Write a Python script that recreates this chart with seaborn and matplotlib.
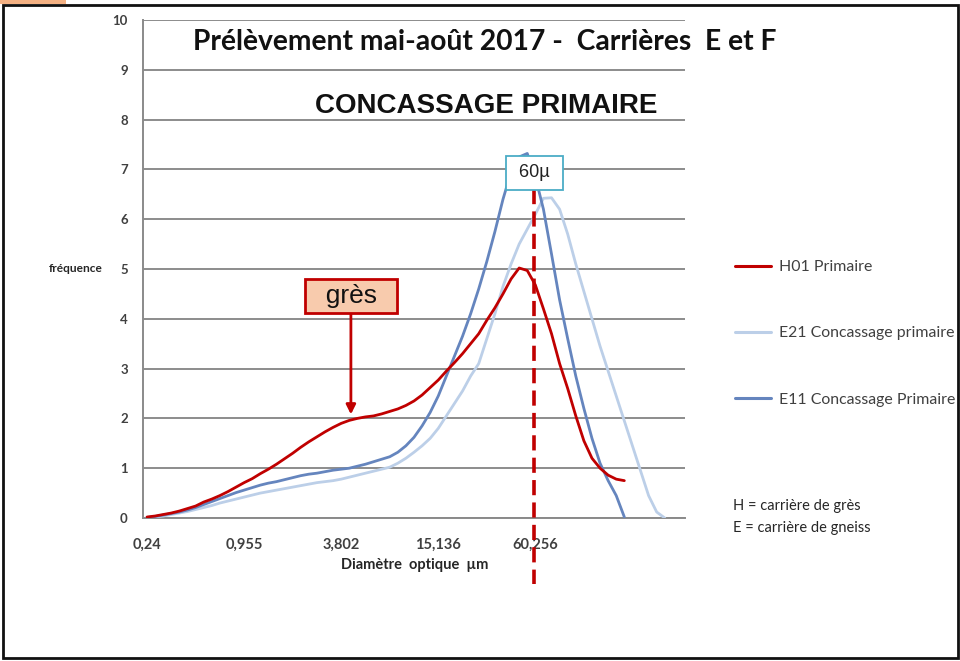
import numpy as np
import pandas as pd
import matplotlib
matplotlib.use("Agg")
import matplotlib.pyplot as plt
from matplotlib.patches import Rectangle
from matplotlib.ticker import FixedLocator
import seaborn as sns

# ---------------- data ----------------
bin_start = 0.24          # first bin (µm); bins grow by 2**(1/6)
bins_per_octave = 6
n_bins = 67
tick_idx = [0, 12, 24, 36, 48]
tick_labels = ["0,24", "0,955", "3,802", "15,136", "60,256"]

h01 = [0.02, 0.04, 0.07, 0.10, 0.14, 0.19, 0.24, 0.32, 0.38, 0.45,
       0.53, 0.62, 0.71, 0.79, 0.89, 0.98, 1.08, 1.19, 1.30, 1.42,
       1.53, 1.63, 1.73, 1.82, 1.90, 1.96, 2.00, 2.03, 2.05, 2.09,
       2.14, 2.19, 2.26, 2.35, 2.47, 2.62, 2.77, 2.95, 3.12, 3.30,
       3.50, 3.70, 3.97, 4.22, 4.50, 4.80, 5.02, 4.97, 4.68, 4.20,
       3.70, 3.10, 2.60, 2.05, 1.55, 1.20, 1.00, 0.86, 0.78, 0.75]

e21 = [0.01, 0.02, 0.04, 0.07, 0.10, 0.13, 0.17, 0.21, 0.25, 0.30,
       0.34, 0.38, 0.42, 0.46, 0.50, 0.53, 0.56, 0.59, 0.62, 0.65,
       0.68, 0.71, 0.73, 0.75, 0.78, 0.82, 0.86, 0.90, 0.94, 0.98,
       1.02, 1.10, 1.20, 1.32, 1.45, 1.60, 1.80, 2.05, 2.30, 2.55,
       2.85, 3.10, 3.60, 4.10, 4.65, 5.10, 5.50, 5.80, 6.10, 6.42,
       6.43, 6.20, 5.70, 5.10, 4.55, 4.00, 3.45, 2.95, 2.45, 1.95,
       1.45, 0.95, 0.45, 0.12, 0.00]

e11 = [0.01, 0.03, 0.06, 0.09, 0.12, 0.16, 0.21, 0.27, 0.33, 0.39,
       0.45, 0.51, 0.56, 0.61, 0.66, 0.70, 0.73, 0.77, 0.81, 0.85,
       0.88, 0.90, 0.93, 0.96, 0.98, 1.00, 1.04, 1.08, 1.13, 1.18,
       1.23, 1.32, 1.45, 1.62, 1.85, 2.12, 2.45, 2.85, 3.25, 3.65,
       4.10, 4.60, 5.15, 5.75, 6.40, 6.95, 7.25, 7.32, 6.85, 6.20,
       5.30, 4.38, 3.60, 2.85, 2.20, 1.60, 1.10, 0.75, 0.45, 0.02]

series_names = ["H01 Primaire", "E21 Concassage primaire", "E11 Concassage Primaire"]
series_vals = [h01, e21, e11]
series_colors = ["#C00000", "#BCCFE8", "#6585BE"]

marker_um = 60            # vertical reference line, "60µ"
gres_idx, gres_val = 25.2, 2.08   # point of the "grès" arrow

rows = []
for name, vals in zip(series_names, series_vals):
    for i, v in enumerate(vals):
        rows.append({"idx": i, "val": v, "series": name})
df = pd.DataFrame(rows)

# ---------------- figure ----------------
W, H = 960, 661
sns.set_style("white")
plt.rcParams["font.family"] = ["Lato", "DejaVu Sans"]

fig = plt.figure(figsize=(W / 100, H / 100), dpi=100)
fig.patch.set_facecolor("white")

def fx(px):
    return px / W

def fy(py):
    return 1 - py / H

ax = fig.add_axes([fx(143), fy(518), fx(685) - fx(143), fy(20) - fy(518)])

sns.lineplot(data=df, x="idx", y="val", hue="series", hue_order=series_names,
             palette=dict(zip(series_names, series_colors)), ax=ax,
             linewidth=2.0, legend=True, zorder=3)

for ln in ax.get_lines():
    if ln.get_color() in ("#C00000", "#c00000"):
        ln.set_zorder(5)

ax.set_xlim(-0.5, n_bins - 0.5)
ax.set_ylim(0, 10)
ax.set_yticks(range(0, 11))
ax.set_xticks(tick_idx)
ax.set_xticklabels(tick_labels)
ax.xaxis.set_minor_locator(FixedLocator(np.arange(-0.5, n_bins, 1)))
ax.tick_params(axis="x", which="major", length=0, pad=14, labelsize=10.5,
               labelcolor="#404040")
ax.tick_params(axis="x", which="minor", length=4, width=1, color="#8a8a8a",
               direction="out")
ax.tick_params(axis="y", which="major", length=6, width=1, color="#8a8a8a",
               direction="out", pad=5, labelsize=9.5, labelcolor="#404040")
for lab in ax.get_xticklabels() + ax.get_yticklabels():
    lab.set_fontweight("bold")

ax.grid(axis="y", color="#8c8c8c", linewidth=1.4, zorder=0)
ax.grid(axis="x", visible=False)
ax.set_axisbelow(True)
for s in ["top", "right"]:
    ax.spines[s].set_visible(False)
for s in ["left", "bottom"]:
    ax.spines[s].set_color("#8a8a8a")
    ax.spines[s].set_linewidth(1.4)

ax.set_xlabel("")
ax.set_ylabel("")

# axis titles
fig.text(fx(76), fy(269), "fréquence", ha="center", va="center",
         fontsize=8.6, color="#262626", fontweight="bold")
fig.text(fx(415), fy(565), "Diamètre  optique  µm", ha="center", va="center",
         fontsize=10.5, color="#262626", fontweight="bold")

# titles
fig.text(fx(485), fy(42), "Prélèvement mai-août 2017 -  Carrières  E et F",
         ha="center", va="center", fontsize=20.3, fontweight="bold", color="#111111")
fig.text(fx(486), fy(106), "CONCASSAGE PRIMAIRE", ha="center", va="center",
         fontsize=20, fontweight="bold", color="#111111",
         family=["Liberation Sans", "DejaVu Sans"])

# legend
leg = ax.legend(loc="upper left", bbox_to_anchor=(fx(735), fy(260)),
                bbox_transform=fig.transFigure, frameon=False,
                handlelength=2.3, handletextpad=0.45, labelspacing=3.3,
                borderpad=0, borderaxespad=0, fontsize=11.4)
for t in leg.get_texts():
    t.set_color("#404040")
for h in leg.legend_handles:
    h.set_linewidth(2.2)

fig.text(fx(733), fy(506), "H = carrière de grès", ha="left", va="center",
         fontsize=10.5, color="#262626")
fig.text(fx(733), fy(528), "E = carrière de gneiss", ha="left", va="center",
         fontsize=10.5, color="#262626")

# 60 µm reference line
marker_x = bins_per_octave * np.log2(marker_um / bin_start)
ax.plot([marker_x, marker_x], [6.6, -1.32], color="#C00000", linewidth=2.6,
        linestyle=(0, (4.2, 2.0)), clip_on=False, zorder=6)
ax.text(marker_x + 0.1, 6.93, f" {marker_um}µ ", ha="center", va="center",
        fontsize=13, color="#222222", family=["Liberation Sans", "DejaVu Sans"],
        zorder=7,
        bbox=dict(boxstyle="square,pad=0.45", facecolor="white",
                  edgecolor="#4BACC6", linewidth=1.3))

# grès annotation
ax.annotate("  grès  ", xy=(gres_idx, gres_val), xytext=(gres_idx, 4.46),
            ha="center", va="center", fontsize=19, color="#111111",
            family=["Liberation Sans", "DejaVu Sans"], zorder=8,
            bbox=dict(boxstyle="square,pad=0.2", facecolor="#F8CBAD",
                      edgecolor="#C00000", linewidth=2),
            arrowprops=dict(arrowstyle="-|>", color="#C00000", linewidth=2,
                            mutation_scale=14, shrinkA=0, shrinkB=0))

# screenshot frame
fig.patches.append(Rectangle((fx(3), fy(658)), fx(955), fy(5) - fy(658) + 0,
                             transform=fig.transFigure, fill=False,
                             edgecolor="#111111", linewidth=2))
fig.patches.append(Rectangle((0, fy(4)), fx(66), 1 - fy(4),
                             transform=fig.transFigure, facecolor="#F4B183",
                             edgecolor="none"))

fig.savefig("out.png", dpi=100)
